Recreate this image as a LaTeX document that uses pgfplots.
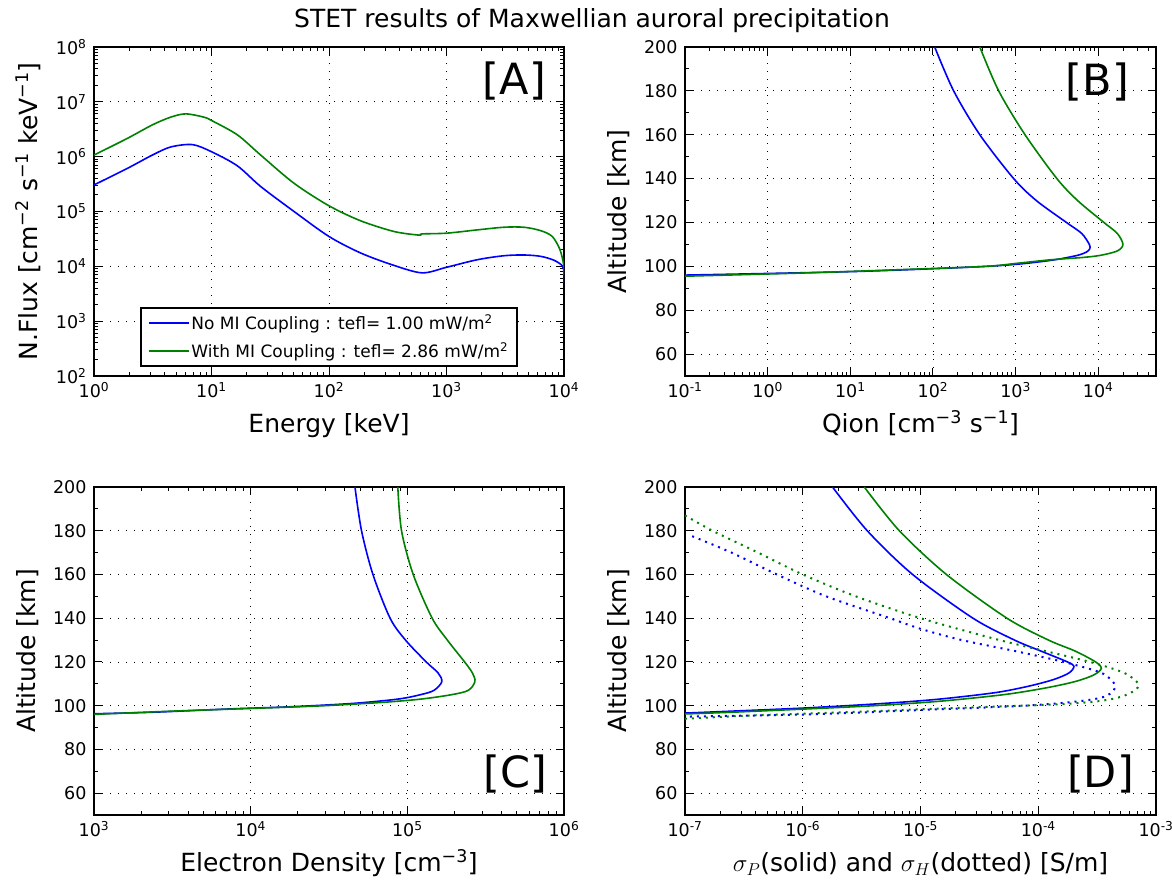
\documentclass[border=0pt]{standalone}
\usepackage{fontspec}
\setmainfont{DejaVu Sans}
\usepackage{pgfplots}
\pgfplotsset{compat=1.18}
\definecolor{mpblue}{rgb}{0,0,1}
\definecolor{mpgreen}{rgb}{0,0.5,0}
\pgfplotsset{
 every axis/.append style={
  scale only axis,
  axis line style={line width=1.5pt},
  tick align=inside, tick pos=both,
  major tick length=8pt, minor tick length=4pt,
  every tick/.style={black, line width=1pt},
  grid=major,
  major grid style={black, line width=0.8pt, dash pattern=on 1.2pt off 6.8pt},
  tick label style={font=\fontsize{17.5}{20}\selectfont, /pgf/number format/assume math mode=true},
  xticklabel style={yshift=-3pt},
  yticklabel style={xshift=-4pt},
  every axis plot/.append style={line width=1.6pt},
 },
 every axis x label/.style={at={(rel axis cs:0.5,0)}, yshift=-57pt, anchor=base, font=\fontsize{25}{30}\selectfont},
 every axis y label/.style={at={(rel axis cs:0,0.5)}, xshift=-66pt, rotate=90, anchor=center, font=\fontsize{25}{30}\selectfont},
}
\begin{document}
\begin{tikzpicture}
\useasboundingbox (0,0) rectangle (1172pt,882pt);
\node[font=\fontsize{25}{30}\selectfont, anchor=base] at (592pt,854pt) {STET results of Maxwellian auroral precipitation};

% Panel A
\begin{axis}[at={(94pt,506pt)}, anchor=south west, width=470pt, height=329pt,
  xmode=log, log basis x=10, ymode=log, log basis y=10,
  xmin=1, xmax=1e4, ymin=1e2, ymax=1e8,
  xticklabel={10\textsuperscript{\pgfmathparse{int(round(\tick))}\pgfmathresult}},
  yticklabel={10\textsuperscript{\pgfmathparse{int(round(\tick))}\pgfmathresult}},
  xlabel={Energy [keV]},
  ylabel={N.Flux [cm\textsuperscript{−2} s\textsuperscript{−1} keV\textsuperscript{−1}]},
  legend style={at={(0.5,0.028)}, anchor=south, draw=black, line width=1.5pt,
    font=\fontsize{17}{20}\selectfont, inner xsep=7pt, inner ysep=5pt, row sep=7pt},
  legend cell align=left,
  legend image code/.code={\path (0pt,0pt) -- (40pt,0pt); \draw[#1, line width=1.6pt] (2pt,0pt) -- (28pt,0pt);},
]
\addplot[mpblue, smooth, tension=0.5] coordinates {
(1,3.05e5) (1.92,6.1e5) (3.14,1.07e6) (4.49,1.5e6) (6.87,1.66e6) (10,1.23e6)
(16.6,6.8e5) (26.2,2.86e5) (50.4,1.0e5) (100,3.5e4) (186,1.75e4) (357,1.04e4)
(622,7.6e3) (1000,9.6e3) (1830,1.32e4) (3080,1.56e4) (4570,1.61e4) (6340,1.52e4)
(8220,1.29e4) (9680,1.02e4) (10000,7.6e3) (10000,5e3)};
\addlegendentry{No MI Coupling : tefl= 1.00 mW/m\textsuperscript{2}}
\addplot[mpgreen, smooth, tension=0.5] coordinates {
(1,1.07e6) (1.92,2.15e6) (3.14,3.8e6) (4.49,5.25e6) (6.03,6.03e6) (8.63,5.25e6)
(10,4.57e6) (16.6,2.5e6) (26.2,1.07e6) (50.4,3.27e5) (100,1.27e5) (186,6.76e4)
(357,4.32e4) (583,3.71e4) (620,3.9e4) (1000,4.02e4) (1830,4.62e4) (3080,5.16e4)
(4570,5.16e4) (6340,4.47e4) (7950,3.5e4) (9250,2.0e4) (10000,1.0e4) (10000,7e3)};
\addlegendentry{With MI Coupling : tefl= 2.86 mW/m\textsuperscript{2}}
\node[anchor=north east, font=\fontsize{43}{50}\selectfont, inner sep=0pt] at (rel axis cs:1,1) [xshift=-18pt, yshift=-15pt] {[A]};
\end{axis}

% Panel B
\begin{axis}[at={(685pt,506pt)}, anchor=south west, width=471pt, height=329pt,
  xmode=log, log basis x=10,
  xmin=0.1, xmax=5e4,
  ymin=50, ymax=200, ytick={60,80,...,200}, minor y tick num=1, ylabel={Altitude [km]},
  xticklabel={10\textsuperscript{\pgfmathparse{int(round(\tick))}\pgfmathresult}},
  xlabel={Qion [cm\textsuperscript{−3} s\textsuperscript{−1}]},
]
\addplot[mpblue, smooth] coordinates {
(105,200) (178,180) (369,160) (948,140) (1780,130) (4120,120) (6300,115) (7800,110)
(7900,108) (7200,106.5) (5600,105) (3000,103) (1300,101.3) (560,100.2) (116,99) (8.45,97.5) (0.1,96.0)};
\addplot[mpgreen, smooth] coordinates {
(369,200) (624,180) (1300,160) (3160,140) (5620,130) (11700,120) (17000,115) (19900,110)
(17000,107) (10600,105) (6300,104) (2700,103) (1000,101.3) (450,100) (69,98.8) (2.9,97) (0.1,95.5)};
\node[anchor=north east, font=\fontsize{43}{50}\selectfont, inner sep=0pt] at (rel axis cs:1,1) [xshift=-27pt, yshift=-16pt] {[B]};
\end{axis}

% Panel C
\begin{axis}[at={(94pt,67pt)}, anchor=south west, width=470pt, height=328pt,
  xmode=log, log basis x=10,
  xmin=1e3, xmax=1e6,
  ymin=50, ymax=200, ytick={60,80,...,200}, minor y tick num=1, ylabel={Altitude [km]},
  xticklabel={10\textsuperscript{\pgfmathparse{int(round(\tick))}\pgfmathresult}},
  xlabel={Electron Density [cm\textsuperscript{−3}]},
]
\addplot[mpblue, smooth] coordinates {
(46300,200) (51000,180) (60300,160) (77600,140) (97300,130) (132000,120) (157000,115)
(166000,111) (148000,107) (121000,105) (87000,103) (44300,101) (18000,99.5) (7350,98.5) (2390,97) (1000,96.3)};
\addplot[mpgreen, smooth] coordinates {
(86900,200) (91800,180) (109000,160) (144000,140) (180000,130) (232000,120) (260000,115)
(270000,111) (245000,107) (191000,105) (122000,103) (69200,101.5) (29900,100) (12900,99) (3160,97.5) (1000,96)};
\node[anchor=south east, font=\fontsize{43}{50}\selectfont, inner sep=0pt] at (rel axis cs:1,0) [xshift=-17pt, yshift=22pt] {[C]};
\end{axis}

% Panel D
\begin{axis}[at={(685pt,67pt)}, anchor=south west, width=471pt, height=328pt,
  xmode=log, log basis x=10,
  xmin=1e-7, xmax=1e-3,
  ymin=50, ymax=200, ytick={60,80,...,200}, minor y tick num=1, ylabel={Altitude [km]},
  xticklabel={10\textsuperscript{\pgfmathparse{int(round(\tick))}\pgfmathresult}},
  xlabel={$\sigma_P$(solid) and $\sigma_H$(dotted) [S/m]},
]
\addplot[mpblue, smooth] coordinates {
(1.79e-6,200) (3.53e-6,180) (8.57e-6,160) (2.79e-5,140) (6.28e-5,130) (1.05e-4,125)
(1.77e-4,120) (2.01e-4,118) (1.83e-4,115) (1.36e-4,112) (8.43e-5,109) (4.37e-5,106)
(1.45e-5,103) (4.79e-6,101) (1.10e-6,99) (2.51e-7,97.5) (1e-7,96.6)};
\addplot[mpgreen, smooth] coordinates {
(3.33e-6,200) (6.61e-6,180) (1.66e-5,160) (5.42e-5,140) (1.22e-4,130) (2.05e-4,125)
(3.07e-4,120) (3.43e-4,117) (2.95e-4,114) (2.05e-4,111) (1.13e-4,108) (5.03e-5,105)
(1.44e-5,102) (4.09e-6,100) (1.08e-6,98.5) (2.51e-7,97) (1e-7,96.2)};
\addplot[mpblue, smooth, line width=2pt, dash pattern=on 2pt off 5pt] coordinates {
(1.15e-7,177.5) (2.48e-7,170) (6.03e-7,160) (1.58e-6,150) (5.50e-6,140) (1.02e-5,135)
(2.24e-5,130) (6.31e-5,125) (1.64e-4,120) (3.43e-4,115) (4.44e-4,110) (4.37e-4,107)
(3.6e-4,104) (2.2e-4,102) (7.83e-5,100) (1e-5,98) (1.10e-6,96) (1e-7,95)};
\addplot[mpgreen, smooth, line width=2pt, dash pattern=on 2pt off 5pt] coordinates {
(1e-7,187) (1.71e-7,180) (4.17e-7,170) (1e-6,160) (2.82e-6,150) (1e-5,140) (4.68e-5,130)
(1.14e-4,125) (2.75e-4,120) (5.37e-4,115) (7.08e-4,110) (6.61e-4,107) (5.01e-4,104)
(3.18e-4,102) (1.32e-4,100.5) (2.09e-5,99) (2.29e-6,97) (3.55e-7,95.5) (1e-7,94)};
\node[anchor=south east, font=\fontsize{43}{50}\selectfont, inner sep=0pt] at (rel axis cs:1,0) [xshift=-22pt, yshift=22pt] {[D]};
\end{axis}
\end{tikzpicture}
\end{document}
